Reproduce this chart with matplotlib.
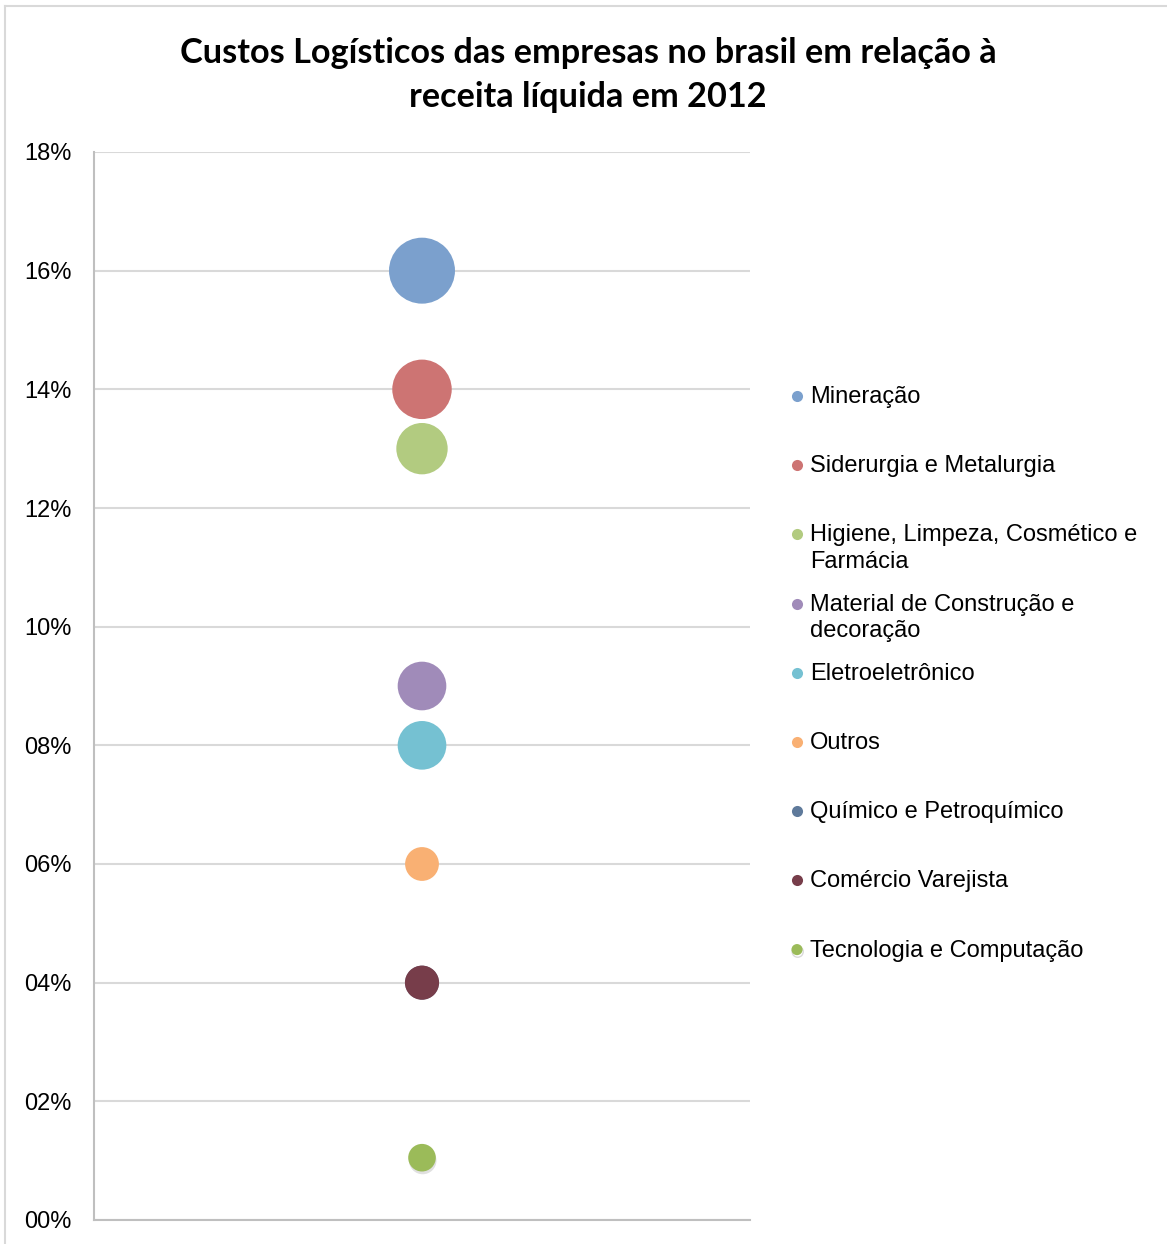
import numpy as np
import matplotlib
matplotlib.use("Agg")
import matplotlib.pyplot as plt
import matplotlib.patheffects as pe
from matplotlib.lines import Line2D
from matplotlib.ticker import FuncFormatter

# ── data ──────────────────────────────────────────────────────────────────────
setores = [
    "Mineração",
    "Siderurgia e Metalurgia",
    "Higiene, Limpeza, Cosmético e\nFarmácia",
    "Material de Construção e\ndecoração",
    "Eletroeletrônico",
    "Outros",
    "Químico e Petroquímico",
    "Comércio Varejista",
    "Tecnologia e Computação",
]
custo_pct = [0.16, 0.14, 0.13, 0.09, 0.08, 0.06, 0.04, 0.04, 0.0105]
bolha     = [16.0, 13.0, 9.7, 8.7, 8.7, 4.2, 4.2, 4.3, 2.8]
x_pos     = [1, 1, 1, 1, 1, 1, 1, 1, 1]
cores = ["#7BA0CD", "#CD7473", "#B2CB80", "#A08BB9", "#75C1D2",
         "#F9B073", "#5F7A9B", "#773D4A", "#9BBB59"]

yticks = np.arange(0, 0.181, 0.02)

# ── figure ────────────────────────────────────────────────────────────────────
W, H = 1167, 1244
fig = plt.figure(figsize=(W / 100, H / 100), dpi=100)
fig.patch.set_facecolor("white")

# chart-area border (top + left visible)
fig.add_artist(Line2D([5 / W, 5 / W], [0, 1 - 6 / H], color="#D9D9D9", lw=1.5))
fig.add_artist(Line2D([5 / W, 1], [1 - 6 / H, 1 - 6 / H], color="#D9D9D9", lw=1.5))

ax = fig.add_axes([94 / W, 1 - 1220 / H, (750 - 94) / W, (1220 - 152) / H])

k = 141.0   # pt² per bubble unit
for i in range(len(setores)):
    sc = ax.scatter(x_pos[i], custo_pct[i], s=bolha[i] * k, color=cores[i],
                    edgecolors="none", zorder=3 + i)
    if i == len(setores) - 1:
        sc.set_path_effects([pe.SimplePatchShadow(offset=(0.5, -2), shadow_rgbFace="black",
                                                  alpha=0.12), pe.Normal()])

ax.set_xlim(0, 2)
ax.set_ylim(0, 0.18)
ax.set_yticks(yticks)
ax.yaxis.set_major_formatter(FuncFormatter(lambda v, p: f"{int(round(v * 100)):02d}%"))
ax.set_xticks([])
ax.tick_params(axis="y", length=0, pad=16, labelsize=17, labelcolor="black")
for lab in ax.get_yticklabels():
    lab.set_fontfamily("Liberation Sans")
ax.grid(axis="y", color="#D9D9D9", lw=1.5, zorder=0)
ax.set_axisbelow(True)
for side in ["top", "right"]:
    ax.spines[side].set_visible(False)
for side in ["left", "bottom"]:
    ax.spines[side].set_color("#BFBFBF")
    ax.spines[side].set_linewidth(1.5)

fig.text(588 / W, 1 - 75 / H,
         "Custos Logísticos das empresas no brasil em relação à\nreceita líquida em 2012",
         ha="center", va="center", fontsize=24.7, fontweight="bold",
         family="Lato", linespacing=1.45)

# ── legend (manual, fixed row pitch like Excel) ──────────────────────────────
y0, pitch = 396, 69.2
for i, name in enumerate(setores):
    yy = 1 - (y0 + i * pitch) / H
    mk = Line2D([797 / W], [yy], marker="o", ms=8, color=cores[i], mec="none",
                linestyle="none", transform=fig.transFigure)
    if i == len(setores) - 1:
        mk.set_path_effects([pe.SimpleLineShadow(offset=(0.5, -1.5), alpha=0.15), pe.Normal()])
    fig.add_artist(mk)
    fig.text(810 / W, yy + 10 / H, name, ha="left", va="top", fontsize=17,
             family="Liberation Sans", linespacing=1.27)

fig.savefig("out.png", dpi=100)
